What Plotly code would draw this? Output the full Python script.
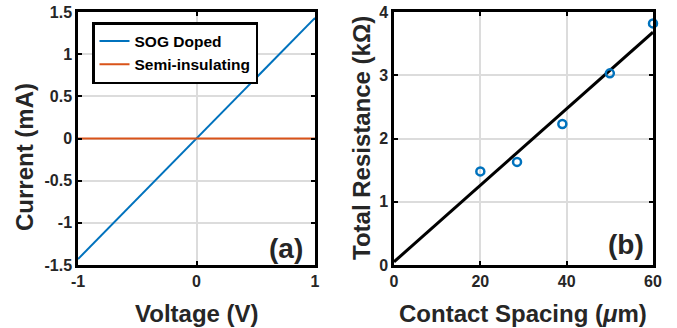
import plotly.graph_objects as go

# Panel (a) data
voltage = [-1.0, 1.0]
current_sog = [-1.43, 1.43]
current_si = [0.0, 0.0]
yticks_a = [-1.5, -1, -0.5, 0, 0.5, 1, 1.5]
ylabels_a = ["-1.5", "-1", "-0.5", "0", "0.5", "1", "1.5"]
xticks_a = [-1, 0, 1]
xlabels_a = ["-1", "0", "1"]

# Panel (b) data
spacing = [20, 28.5, 39, 50, 60]
resistance = [1.48, 1.63, 2.23, 3.03, 3.82]
fit_x = [0, 60]
fit_y = [0.05, 3.68]
xticks_b = [0, 20, 40, 60]
yticks_b = [0, 1, 2, 3, 4]

# body margin is removed by the post script, so figure pixels == window pixels
W, H = 677, 328


def fx(px):
    return px / W


def fy(py):
    return 1 - py / H


def bold(labels):
    return ["<b>%s</b>" % s for s in labels]


FONT = "Liberation Sans"
TXT = "#262626"
fig = go.Figure()
fig.add_trace(go.Scatter(x=voltage, y=current_sog, mode="lines", name="SOG Doped",
                         line=dict(color="#0072BD", width=2), xaxis="x", yaxis="y"))
fig.add_trace(go.Scatter(x=voltage, y=current_si, mode="lines", name="Semi-insulating",
                         line=dict(color="#D95319", width=2), xaxis="x", yaxis="y"))
fig.add_trace(go.Scatter(x=fit_x, y=fit_y, mode="lines", showlegend=False,
                         line=dict(color="black", width=3), xaxis="x2", yaxis="y2"))
fig.add_trace(go.Scatter(x=spacing, y=resistance, mode="markers", showlegend=False,
                         marker=dict(symbol="circle-open", size=8, color="#0072BD",
                                     line=dict(width=2.5, color="#0072BD")),
                         xaxis="x2", yaxis="y2", cliponaxis=False))

font_t = dict(family=FONT, size=16, color=TXT, weight="bold")
font_title = dict(family=FONT, size=24, color=TXT, weight="bold")
common = dict(showline=True, linecolor="black", linewidth=2.5, mirror="ticks",
              ticks="inside", ticklen=4, tickcolor="black", tickwidth=1.5,
              showgrid=True, gridcolor="#DCDCDC", gridwidth=1.5, zeroline=False,
              tickfont=font_t, automargin=False, ticklabeloverflow="allow")

y0, y1 = fy(265), fy(12)
fig.update_layout(
    width=W, height=H, margin=dict(l=0, r=0, t=0, b=0),
    paper_bgcolor="white", plot_bgcolor="white",
    font=dict(family=FONT, color=TXT),
    xaxis=dict(domain=[fx(78), fx(315)], range=[-1, 1], tickvals=xticks_a,
               ticktext=bold(xlabels_a), anchor="y", **common),
    yaxis=dict(domain=[y0, y1], range=[-1.5, 1.5], tickvals=yticks_a,
               ticktext=bold(ylabels_a), anchor="x", **common),
    xaxis2=dict(domain=[fx(394), fx(653)], range=[0, 60], tickvals=xticks_b,
                ticktext=bold([str(v) for v in xticks_b]), anchor="y2", **common),
    yaxis2=dict(domain=[y0, y1], range=[0, 4], tickvals=yticks_b,
                ticktext=bold([str(v) for v in yticks_b]), anchor="x2", **common),
    legend=dict(x=fx(92), y=fy(22), xanchor="left", yanchor="top",
                bgcolor="white", bordercolor="black", borderwidth=2.5,
                font=dict(family=FONT, size=15.5, color="black", weight="bold"),
                tracegroupgap=0, itemwidth=30),
    annotations=[
        dict(text="Current (mA)", x=fx(24), y=fy(157), xref="paper", yref="paper",
             textangle=-90, xanchor="center", yanchor="middle", showarrow=False, font=font_title),
        dict(text="Voltage (V)", x=fx(197), y=fy(313), xref="paper", yref="paper",
             xanchor="center", yanchor="middle", showarrow=False, font=font_title),
        dict(text="Total Resistance (kΩ)", x=fx(362), y=fy(138), xref="paper", yref="paper",
             textangle=-90, xanchor="center", yanchor="middle", showarrow=False, font=font_title),
        dict(text="Contact Spacing (<i>μ</i>m)", x=fx(523), y=fy(313), xref="paper", yref="paper",
             xanchor="center", yanchor="middle", showarrow=False, font=font_title),
        dict(text="(a)", x=fx(286), y=fy(248), xref="paper", yref="paper",
             xanchor="center", yanchor="middle", showarrow=False,
             font=dict(family=FONT, size=28, color=TXT, weight="bold")),
        dict(text="(b)", x=fx(626), y=fy(244), xref="paper", yref="paper",
             xanchor="center", yanchor="middle", showarrow=False,
             font=dict(family=FONT, size=28, color=TXT, weight="bold")),
    ],
)
fig.write_html("out.html", config={"displayModeBar": False},
               post_script="document.body.style.margin='0';document.body.style.overflow='hidden';")
